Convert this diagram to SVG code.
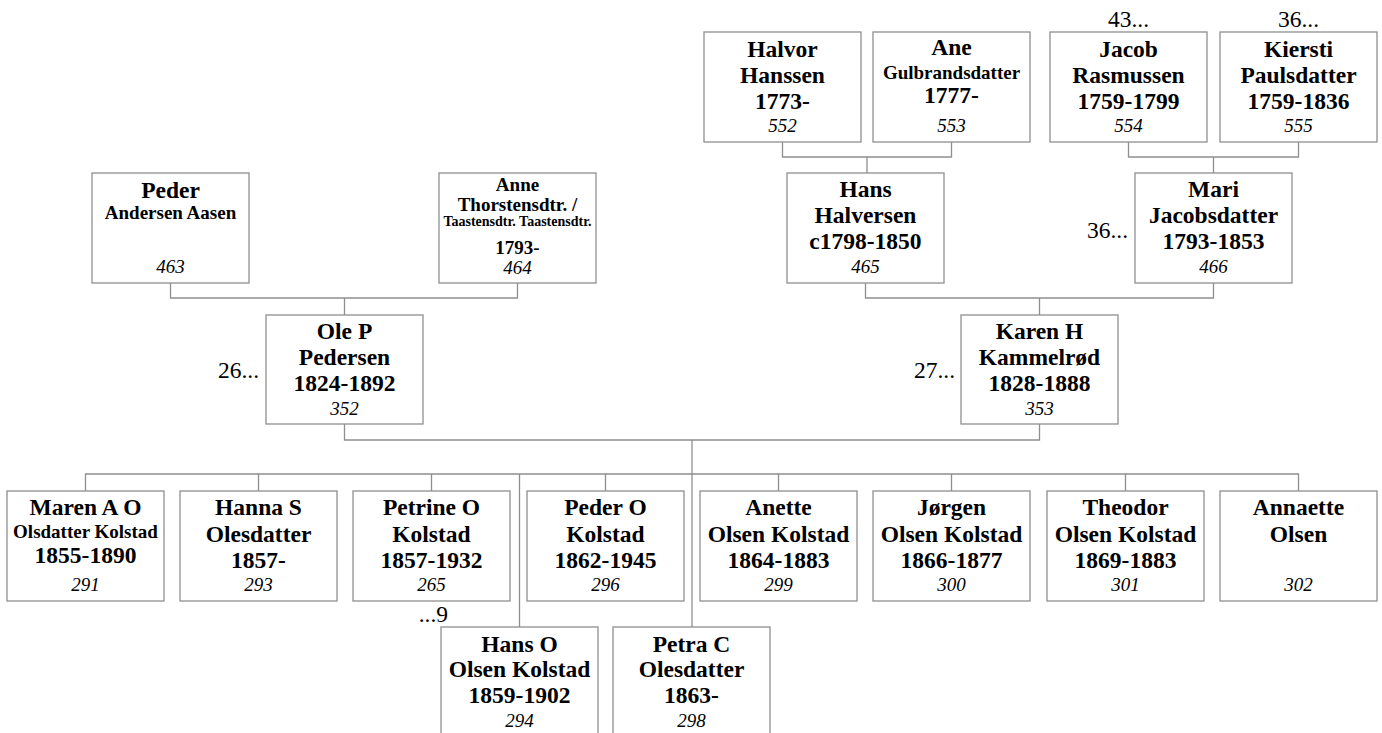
<svg xmlns="http://www.w3.org/2000/svg" width="1382" height="733" viewBox="0 0 1382 733">
<style>
.box{fill:#fff;stroke:#8f8f8f;stroke-width:1.3}
.ln{fill:none;stroke:#8f8f8f;stroke-width:1.3}
text{font-family:"Liberation Serif","Times New Roman",serif;fill:#000;text-anchor:middle}
.n{font-size:23.5px;font-weight:bold}
.s{font-size:19px;font-weight:bold}
.t{font-size:14px;font-weight:bold}
.id{font-size:19px;font-style:italic}
.lab{font-size:23.5px}
.r{text-anchor:end}
</style>
<rect width="1382" height="733" fill="#fff"/>
<g id="connectors">
<path class="ln" d="M782.5,142V157H951.5V142M867,157V173"/>
<path class="ln" d="M1128.5,142V157H1298.5V142M1213.5,157V173"/>
<path class="ln" d="M170.5,283V298H517.5V283M344.5,298V315"/>
<path class="ln" d="M865.5,283V298H1213.5V283M1039.5,298V315"/>
<path class="ln" d="M344.5,424V440H1039.5V424M692,440V627"/>
<path class="ln" d="M85.5,491V474H1298.5V491"/>
<path class="ln" d="M258.5,474V491M431.5,474V491M605.5,474V491M778.5,474V491M951.5,474V491M1125.5,474V491M519.5,474V627"/>
</g>
<g id="p552"><rect class="box" x="704" y="32" width="157" height="110"/>
<text class="n" x="782.5" y="57">Halvor</text><text class="n" x="782.5" y="83">Hanssen</text><text class="n" x="782.5" y="109">1773-</text><text class="id" x="782.5" y="132">552</text></g>
<g id="p553"><rect class="box" x="873" y="32" width="157" height="110"/>
<text class="n" x="951.5" y="55">Ane</text><text class="s" x="951.5" y="79">Gulbrandsdatter</text><text class="n" x="951.5" y="103">1777-</text><text class="id" x="951.5" y="132">553</text></g>
<g id="p554"><rect class="box" x="1050" y="32" width="157" height="110"/>
<text class="lab" x="1128.5" y="27">43...</text>
<text class="n" x="1128.5" y="57">Jacob</text><text class="n" x="1128.5" y="83">Rasmussen</text><text class="n" x="1128.5" y="109">1759-1799</text><text class="id" x="1128.5" y="132">554</text></g>
<g id="p555"><rect class="box" x="1220" y="32" width="157" height="110"/>
<text class="lab" x="1298.5" y="27">36...</text>
<text class="n" x="1298.5" y="57">Kiersti</text><text class="n" x="1298.5" y="83">Paulsdatter</text><text class="n" x="1298.5" y="109">1759-1836</text><text class="id" x="1298.5" y="132">555</text></g>
<g id="p463"><rect class="box" x="92" y="173" width="157" height="110"/>
<text class="n" x="170.5" y="198">Peder</text><text class="s" x="170.5" y="219">Andersen Aasen</text><text class="id" x="170.5" y="273">463</text></g>
<g id="p464"><rect class="box" x="439" y="173" width="157" height="110"/>
<text class="s" x="517.5" y="191">Anne</text><text class="s" x="517.5" y="211">Thorstensdtr. /</text><text class="t" x="517.5" y="226">Taastensdtr. Taastensdtr.</text><text class="s" x="517.5" y="254">1793-</text><text class="id" x="517.5" y="274">464</text></g>
<g id="p465"><rect class="box" x="787" y="173" width="157" height="110"/>
<text class="n" x="865.5" y="197">Hans</text><text class="n" x="865.5" y="223">Halversen</text><text class="n" x="865.5" y="249">c1798-1850</text><text class="id" x="865.5" y="273">465</text></g>
<g id="p466"><rect class="box" x="1135" y="173" width="157" height="110"/>
<text class="lab r" x="1128" y="238">36...</text>
<text class="n" x="1213.5" y="197">Mari</text><text class="n" x="1213.5" y="223">Jacobsdatter</text><text class="n" x="1213.5" y="249">1793-1853</text><text class="id" x="1213.5" y="273">466</text></g>
<g id="p352"><rect class="box" x="266" y="315" width="157" height="109"/>
<text class="lab r" x="259" y="378">26...</text>
<text class="n" x="344.5" y="339">Ole P</text><text class="n" x="344.5" y="365">Pedersen</text><text class="n" x="344.5" y="391">1824-1892</text><text class="id" x="344.5" y="415">352</text></g>
<g id="p353"><rect class="box" x="961" y="315" width="157" height="109"/>
<text class="lab r" x="955" y="378">27...</text>
<text class="n" x="1039.5" y="339">Karen H</text><text class="n" x="1039.5" y="365">Kammelrød</text><text class="n" x="1039.5" y="391">1828-1888</text><text class="id" x="1039.5" y="415">353</text></g>
<g id="p291"><rect class="box" x="7" y="491" width="157" height="110"/>
<text class="n" x="85.5" y="515">Maren A O</text><text class="s" x="85.5" y="538">Olsdatter Kolstad</text><text class="n" x="85.5" y="563">1855-1890</text><text class="id" x="85.5" y="591">291</text></g>
<g id="p293"><rect class="box" x="180" y="491" width="157" height="110"/>
<text class="n" x="258.5" y="515">Hanna S</text><text class="n" x="258.5" y="542">Olesdatter</text><text class="n" x="258.5" y="568">1857-</text><text class="id" x="258.5" y="591">293</text></g>
<g id="p265"><rect class="box" x="353" y="491" width="157" height="110"/>
<text class="n" x="431.5" y="515">Petrine O</text><text class="n" x="431.5" y="542">Kolstad</text><text class="n" x="431.5" y="568">1857-1932</text><text class="id" x="431.5" y="591">265</text>
<text class="lab r" x="448" y="622">...9</text></g>
<g id="p296"><rect class="box" x="527" y="491" width="157" height="110"/>
<text class="n" x="605.5" y="515">Peder O</text><text class="n" x="605.5" y="542">Kolstad</text><text class="n" x="605.5" y="568">1862-1945</text><text class="id" x="605.5" y="591">296</text></g>
<g id="p299"><rect class="box" x="700" y="491" width="157" height="110"/>
<text class="n" x="778.5" y="515">Anette</text><text class="n" x="778.5" y="542">Olsen Kolstad</text><text class="n" x="778.5" y="568">1864-1883</text><text class="id" x="778.5" y="591">299</text></g>
<g id="p300"><rect class="box" x="873" y="491" width="157" height="110"/>
<text class="n" x="951.5" y="515">Jørgen</text><text class="n" x="951.5" y="542">Olsen Kolstad</text><text class="n" x="951.5" y="568">1866-1877</text><text class="id" x="951.5" y="591">300</text></g>
<g id="p301"><rect class="box" x="1047" y="491" width="157" height="110"/>
<text class="n" x="1125.5" y="515">Theodor</text><text class="n" x="1125.5" y="542">Olsen Kolstad</text><text class="n" x="1125.5" y="568">1869-1883</text><text class="id" x="1125.5" y="591">301</text></g>
<g id="p302"><rect class="box" x="1220" y="491" width="157" height="110"/>
<text class="n" x="1298.5" y="515">Annaette</text><text class="n" x="1298.5" y="542">Olsen</text><text class="id" x="1298.5" y="591">302</text></g>
<g id="p294"><rect class="box" x="441" y="627" width="157" height="110"/>
<text class="n" x="519.5" y="652">Hans O</text><text class="n" x="519.5" y="677">Olsen Kolstad</text><text class="n" x="519.5" y="703">1859-1902</text><text class="id" x="519.5" y="727">294</text></g>
<g id="p298"><rect class="box" x="613" y="627" width="157" height="110"/>
<text class="n" x="691.5" y="652">Petra C</text><text class="n" x="691.5" y="677">Olesdatter</text><text class="n" x="691.5" y="703">1863-</text><text class="id" x="691.5" y="727">298</text></g>
</svg>
